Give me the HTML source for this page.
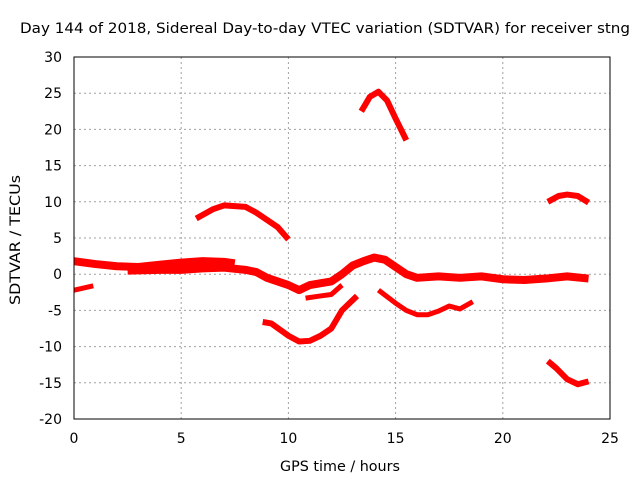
<!DOCTYPE html>
<html><head><meta charset="utf-8"><style>
body{margin:0;background:#fff}
svg text{font-family:"DejaVu Sans","Liberation Sans",sans-serif;font-size:14px;fill:#000}
</style></head><body>
<svg id="chart" width="640" height="480">
<text x="20" y="33" textLength="610" lengthAdjust="spacingAndGlyphs">Day 144 of 2018, Sidereal Day-to-day VTEC variation (SDTVAR) for receiver stng</text>
<g id="grid"></g>
<g id="series"></g>
<rect x="74" y="57" width="536" height="362" fill="none" stroke="#000" stroke-width="1"/>
<g id="ticks"></g>
<text x="280" y="471" textLength="120" lengthAdjust="spacingAndGlyphs">GPS time / hours</text>
<text transform="translate(20,305) rotate(-90)" textLength="130" lengthAdjust="spacingAndGlyphs">SDTVAR / TECUs</text>
</svg>
<script>
const xTicks=[0,5,10,15,20,25];
const yTicks=[-20,-15,-10,-5,0,5,10,15,20,25,30];
const segA1=[[0,1.8],[1,1.4],[2,1.1],[3,1.0],[4,1.3],[5,1.6],[6,1.8],[7,1.7],[7.5,1.5]];
const segA2=[[2.5,0.5],[4,0.6],[5,0.6],[6,0.8],[7,0.9],[8,0.6],[8.5,0.3],[9,-0.5],[10,-1.5],[10.5,-2.2],[11,-1.5],[12,-1],[12.5,0],[13,1.2],[13.5,1.8],[14,2.3],[14.5,2],[15,1],[15.5,0],[16,-0.5],[17,-0.3],[18,-0.5],[19,-0.3],[20,-0.7],[21,-0.8],[22,-0.6],[23,-0.3],[24,-0.6]];
const segB=[[0,-2.2],[0.9,-1.6]];
const segC=[[5.7,7.7],[6.5,9],[7,9.5],[8,9.3],[8.5,8.5],[9,7.5],[9.5,6.5],[10,4.8]];
const segD=[[8.8,-6.6],[9.2,-6.8],[10,-8.5],[10.5,-9.3],[11,-9.2],[11.5,-8.5],[12,-7.5],[12.5,-5],[13.2,-3]];
const segE=[[10.8,-3.3],[11.5,-3.0],[12,-2.8],[12.5,-1.5]];
const segF=[[13.4,22.5],[13.8,24.5],[14.2,25.2],[14.6,24],[15,21.5],[15.5,18.5]];
const segG=[[14.2,-2.2],[15,-4],[15.5,-5],[16,-5.6],[16.5,-5.6],[17,-5.1],[17.5,-4.4],[18,-4.8],[18.6,-3.8]];
const segH=[[22.1,10],[22.6,10.8],[23,11],[23.5,10.8],[24,9.9]];
const segI=[[22.1,-12],[22.5,-13],[23,-14.5],[23.5,-15.2],[24,-14.8]];
const NS="http://www.w3.org/2000/svg";
const X=v=>74+v*536/25, Y=v=>419-(v+20)*362/50;
const grid=document.getElementById('grid'),ticks=document.getElementById('ticks'),ser=document.getElementById('series');
function mk(tag,attrs,parent){const e=document.createElementNS(NS,tag);for(const k in attrs)e.setAttribute(k,attrs[k]);parent.appendChild(e);return e;}
xTicks.forEach(t=>{
 if(t>0&&t<25){const l=mk('line',{x1:X(t),x2:X(t),y1:57,y2:419,stroke:'#a0a0a0','stroke-dasharray':'2,3'},grid);
 
 }
 const tx=mk('text',{x:X(t),y:443,'text-anchor':'middle'},ticks);tx.textContent=t;
 
 
});
yTicks.forEach(t=>{
 if(t>-20&&t<30){const l=mk('line',{x1:74,x2:610,y1:Y(t),y2:Y(t),stroke:'#a0a0a0','stroke-dasharray':'2,3'},grid);
 
 }
 const tx=mk('text',{x:62,y:Y(t)+5,'text-anchor':'end'},ticks);tx.textContent=t;
 
 
});
[[segA1,8],[segA2,8],[segB,5],[segC,6],[segD,6],[segE,5],[segF,6],[segG,5],[segH,6],[segI,6]].forEach(([s,w],i)=>{
 const p=mk('polyline',{points:s.map(d=>X(d[0])+','+Y(d[1])).join(' '),fill:'none',stroke:'#ff0000','stroke-width':w,'stroke-linejoin':'round'},ser);
 
 
});
</script>
</body></html>
